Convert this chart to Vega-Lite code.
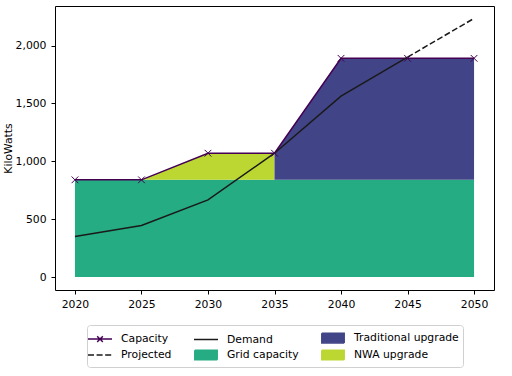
{
  "$schema": "https://vega.github.io/schema/vega-lite/v6.json",
  "width": 439,
  "height": 284,
  "autosize": {"type": "none"},
  "padding": {"left": 55, "top": 6, "right": 18, "bottom": 86},
  "config": {
    "view": {"stroke": "black", "strokeWidth": 1},
    "font": "DejaVu Sans",
    "axis": {"grid": false, "domain": false, "tickColor": "black", "labelColor": "black", "labelFontSize": 10.8, "tickSize": 4, "titleColor": "black", "titleFontWeight": "normal", "titleFontSize": 10.8}
  },
  "datasets": {
    "areas": [
      {"year": 2020, "series": "Grid capacity", "lo": 0, "hi": 840},
      {"year": 2025, "series": "Grid capacity", "lo": 0, "hi": 840},
      {"year": 2030, "series": "Grid capacity", "lo": 0, "hi": 840},
      {"year": 2035, "series": "Grid capacity", "lo": 0, "hi": 840},
      {"year": 2040, "series": "Grid capacity", "lo": 0, "hi": 840},
      {"year": 2045, "series": "Grid capacity", "lo": 0, "hi": 840},
      {"year": 2050, "series": "Grid capacity", "lo": 0, "hi": 840},
      {"year": 2025, "series": "NWA upgrade", "lo": 840, "hi": 840},
      {"year": 2030, "series": "NWA upgrade", "lo": 840, "hi": 1070},
      {"year": 2035, "series": "NWA upgrade", "lo": 840, "hi": 1070},
      {"year": 2035, "series": "Traditional upgrade", "lo": 840, "hi": 1070},
      {"year": 2040, "series": "Traditional upgrade", "lo": 840, "hi": 1890},
      {"year": 2045, "series": "Traditional upgrade", "lo": 840, "hi": 1890},
      {"year": 2050, "series": "Traditional upgrade", "lo": 840, "hi": 1890}
    ],
    "lines": [
      {"year": 2020, "series": "Capacity", "value": 840},
      {"year": 2025, "series": "Capacity", "value": 840},
      {"year": 2030, "series": "Capacity", "value": 1070},
      {"year": 2035, "series": "Capacity", "value": 1070},
      {"year": 2040, "series": "Capacity", "value": 1890},
      {"year": 2045, "series": "Capacity", "value": 1890},
      {"year": 2050, "series": "Capacity", "value": 1890},
      {"year": 2020, "series": "Demand", "value": 350},
      {"year": 2025, "series": "Demand", "value": 445},
      {"year": 2030, "series": "Demand", "value": 667},
      {"year": 2035, "series": "Demand", "value": 1070},
      {"year": 2040, "series": "Demand", "value": 1563},
      {"year": 2045, "series": "Demand", "value": 1900},
      {"year": 2045, "series": "Projected", "value": 1900},
      {"year": 2050, "series": "Projected", "value": 2235}
    ],
    "legendrows": [
      {"series": "Capacity"},
      {"series": "Demand"},
      {"series": "Traditional upgrade"},
      {"series": "Projected"},
      {"series": "Grid capacity"},
      {"series": "NWA upgrade"}
    ]
  },
  "layer": [
    {
      "data": {"name": "areas"},
      "mark": {"type": "area", "opacity": 1},
      "encoding": {
        "x": {"field": "year", "type": "quantitative", "scale": {"domain": [2018.5, 2051.5], "nice": false, "zero": false}, "axis": {"values": [2020, 2025, 2030, 2035, 2040, 2045, 2050], "format": "d", "title": null, "labelPadding": 4}},
        "y": {"field": "hi", "type": "quantitative", "scale": {"domain": [-112, 2342], "nice": false, "zero": false}, "axis": {"values": [0, 500, 1000, 1500, 2000], "format": ",d", "title": "KiloWatts", "labelPadding": 5, "titlePadding": 2}},
        "y2": {"field": "lo"},
        "color": {
          "field": "series", "type": "nominal",
          "scale": {"domain": ["Grid capacity", "NWA upgrade", "Traditional upgrade", "Capacity", "Demand", "Projected"], "range": ["#25ac82", "#bcd632", "#414487", "#440154", "#1a1a1a", "#1a1a1a"]},
          "legend": null
        }
      }
    },
    {
      "data": {"name": "lines"},
      "transform": [{"filter": "datum.series !== 'Projected'"}],
      "mark": {"type": "line", "strokeWidth": 1.5},
      "encoding": {
        "x": {"field": "year", "type": "quantitative"},
        "y": {"field": "value", "type": "quantitative"},
        "color": {"field": "series", "type": "nominal", "legend": null}
      }
    },
    {
      "data": {"name": "lines"},
      "transform": [{"filter": "datum.series === 'Projected'"}],
      "mark": {"type": "line", "strokeWidth": 1.5, "strokeDash": [6, 2.6], "color": "#1a1a1a"},
      "encoding": {
        "x": {"field": "year", "type": "quantitative"},
        "y": {"field": "value", "type": "quantitative"}
      }
    },
    {
      "data": {"name": "lines"},
      "transform": [{"filter": "datum.series === 'Capacity'"}],
      "mark": {"type": "point", "shape": "M-1,-1L1,1M-1,1L1,-1", "filled": false, "size": 45, "stroke": "#440154", "strokeWidth": 1, "opacity": 1},
      "encoding": {
        "x": {"field": "year", "type": "quantitative"},
        "y": {"field": "value", "type": "quantitative"}
      }
    },
    {
      "data": {"name": "legendrows"},
      "mark": {"type": "point", "filled": true, "opacity": 0},
      "encoding": {
        "fill": {"field": "series", "type": "nominal", "scale": {"domain": ["Capacity", "Demand", "Traditional upgrade", "Projected", "Grid capacity", "NWA upgrade"], "range": ["#440154", "#1a1a1a", "#414487", "#1a1a1a", "#25ac82", "#bcd632"]},
          "legend": {"orient": "none", "legendX": 32, "legendY": 319, "direction": "horizontal", "columns": 3, "title": null, "labelFontSize": 10.8, "labelColor": "black", "symbolSize": 256, "labelOffset": 12, "columnPadding": 19, "rowPadding": 0, "padding": 4, "strokeColor": "#d0d0d0", "fillColor": "white", "cornerRadius": 3, "symbolOpacity": 1, "symbolStrokeWidth": 1.5}},
        "stroke": {"field": "series", "type": "nominal", "scale": {"domain": ["Capacity", "Demand", "Traditional upgrade", "Projected", "Grid capacity", "NWA upgrade"], "range": ["#440154", "#1a1a1a", "#414487", "#1a1a1a", "#25ac82", "#bcd632"]},
          "legend": {"orient": "none", "legendX": 32, "legendY": 319, "direction": "horizontal", "columns": 3, "title": null, "labelFontSize": 10.8, "labelColor": "black", "symbolSize": 256, "labelOffset": 12, "columnPadding": 19, "rowPadding": 0, "padding": 4, "strokeColor": "#d0d0d0", "fillColor": "white", "cornerRadius": 3, "symbolOpacity": 1, "symbolStrokeWidth": 1.5}},
        "shape": {"field": "series", "type": "nominal", "scale": {"domain": ["Capacity", "Demand", "Traditional upgrade", "Projected", "Grid capacity", "NWA upgrade"], "range": ["M-1.5,0H1.5M-0.35,-0.35L0.35,0.35M-0.35,0.35L0.35,-0.35", "M-1.5,0H1.5", "M-1.4,-0.6H1.4V0.6H-1.4Z", "M-1.5,0H1.5", "M-1.4,-0.6H1.4V0.6H-1.4Z", "M-1.4,-0.6H1.4V0.6H-1.4Z"]},
          "legend": {"orient": "none", "legendX": 32, "legendY": 319, "direction": "horizontal", "columns": 3, "title": null, "labelFontSize": 10.8, "labelColor": "black", "symbolSize": 256, "labelOffset": 12, "columnPadding": 19, "rowPadding": 0, "padding": 4, "strokeColor": "#d0d0d0", "fillColor": "white", "cornerRadius": 3, "symbolOpacity": 1, "symbolStrokeWidth": 1.5}},
        "strokeDash": {"field": "series", "type": "nominal", "scale": {"domain": ["Capacity", "Demand", "Traditional upgrade", "Projected", "Grid capacity", "NWA upgrade"], "range": [[1, 0], [1, 0], [1, 0], [6, 2.6], [1, 0], [1, 0]]},
          "legend": {"orient": "none", "legendX": 32, "legendY": 319, "direction": "horizontal", "columns": 3, "title": null, "labelFontSize": 10.8, "labelColor": "black", "symbolSize": 256, "labelOffset": 12, "columnPadding": 19, "rowPadding": 0, "padding": 4, "strokeColor": "#d0d0d0", "fillColor": "white", "cornerRadius": 3, "symbolOpacity": 1, "symbolStrokeWidth": 1.5}}
      }
    }
  ]
}
